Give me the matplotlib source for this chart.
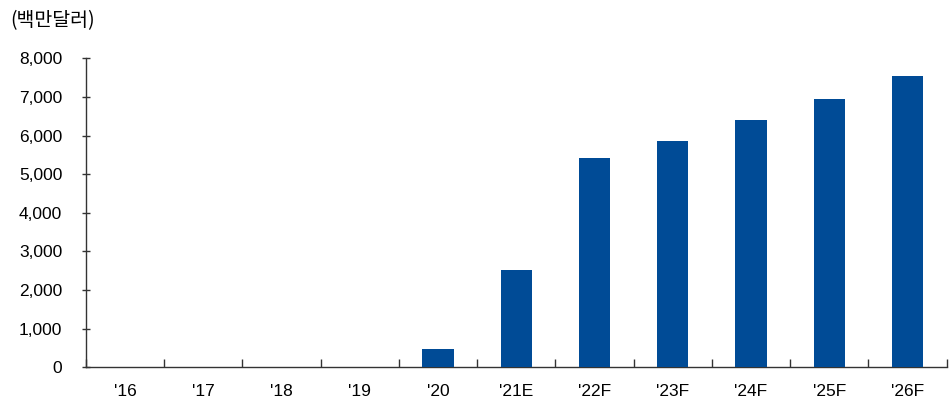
import matplotlib
matplotlib.use("Agg")
import matplotlib.pyplot as plt
import numpy as np

categories = ["'16", "'17", "'18", "'19", "'20", "'21E", "'22F", "'23F", "'24F", "'25F", "'26F"]
values = [5, 20, 20, 5, 470, 2510, 5420, 5870, 6400, 6950, 7540]
yticks = [0, 1000, 2000, 3000, 4000, 5000, 6000, 7000, 8000]
unit_label = "(백만달러)"

plt.rcParams['font.family'] = ['Liberation Sans', 'Noto Sans CJK KR', 'DejaVu Sans']

fig = plt.figure(figsize=(9.5, 4.01), dpi=100)
ax = fig.add_axes([0.0905, 0.084, 0.906, 0.7706])

x = np.arange(len(categories))
ax.bar(x, values, width=0.4, color='#004B96', edgecolor='none', zorder=3)

ax.set_xlim(-0.5, len(categories) - 0.5)
ax.set_ylim(0, 8000)
ax.set_yticks(yticks)
ax.set_yticklabels([f"{v:,}" for v in yticks], fontsize=12.5)
ax.tick_params(axis='y', direction='inout', length=6, width=1, pad=14, color='#333333')

# x: major ticks at category boundaries, labels at minor ticks (centers)
ax.set_xticks(np.arange(-0.5, len(categories) + 0.5, 1.0))
ax.set_xticklabels([])
ax.tick_params(axis='x', which='major', direction='in', length=6, width=1, color='#333333')
ax.set_xticks(x, minor=True)
ax.set_xticklabels(categories, minor=True, fontsize=12.5)
ax.tick_params(axis='x', which='minor', length=0, pad=12)

for s in ['top', 'right']:
    ax.spines[s].set_visible(False)
for s in ['left', 'bottom']:
    ax.spines[s].set_color('#333333')
    ax.spines[s].set_linewidth(1)

fig.text(10 / 950, 1 - 21 / 401, unit_label, fontsize=14, ha='left', va='center',
         family=['Noto Sans CJK KR', 'Liberation Sans'])

fig.savefig("out.png", dpi=100)
